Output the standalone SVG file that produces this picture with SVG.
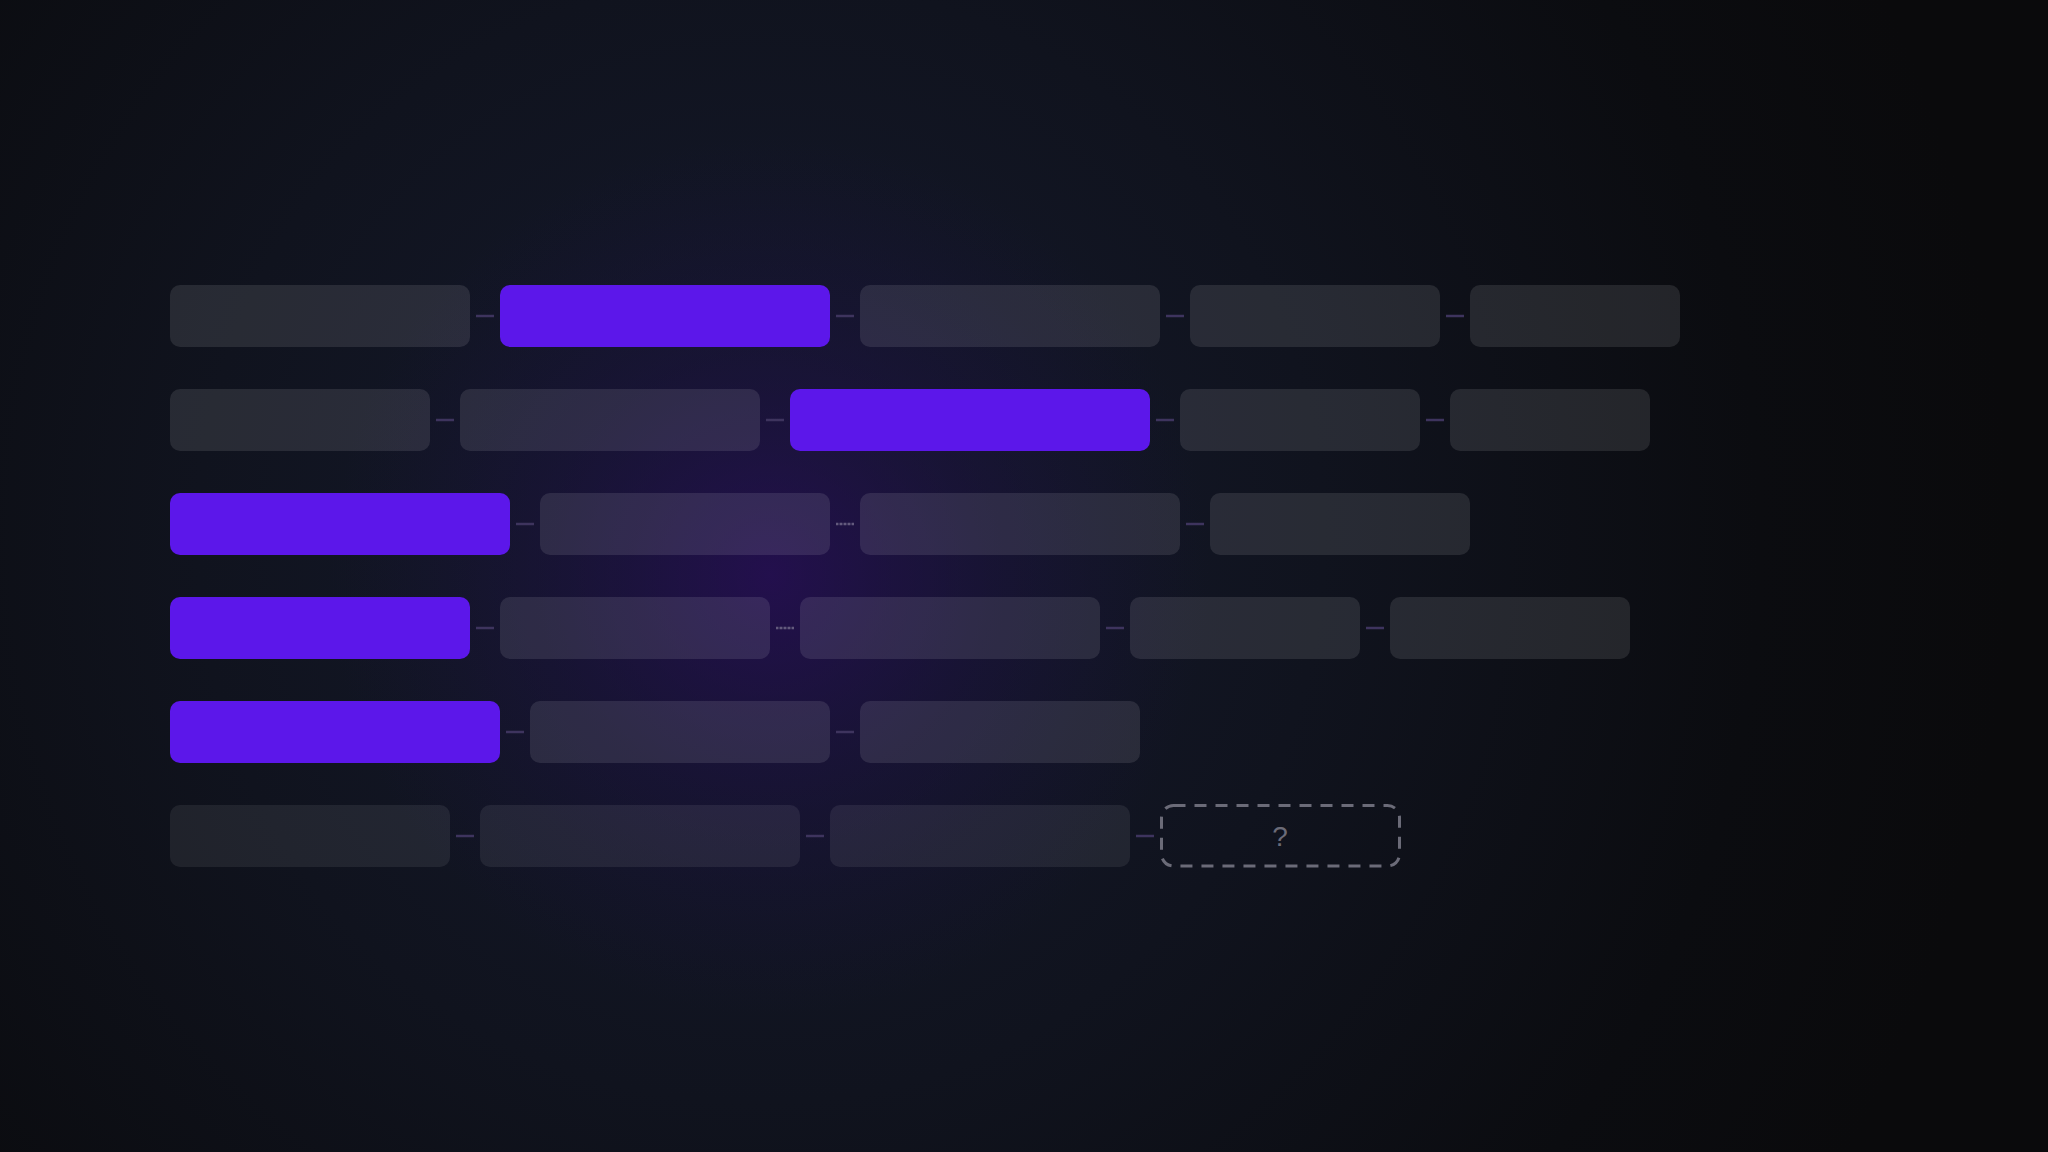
<svg xmlns="http://www.w3.org/2000/svg" width="2048" height="1152" viewBox="0 0 2048 1152">
  <defs>
    <radialGradient id="bgNavy" cx="760" cy="540" r="1250" gradientUnits="userSpaceOnUse">
      <stop offset="0" stop-color="#151a2e"/>
      <stop offset="0.45" stop-color="#10131e"/>
      <stop offset="0.8" stop-color="#0b0c10"/>
      <stop offset="1" stop-color="#0a0a0c"/>
    </radialGradient>
    <radialGradient id="bgGlow" cx="770" cy="575" r="440" gradientUnits="userSpaceOnUse">
      <stop offset="0" stop-color="#280c58" stop-opacity="0.75"/>
      <stop offset="0.5" stop-color="#200d4a" stop-opacity="0.35"/>
      <stop offset="1" stop-color="#1a1040" stop-opacity="0"/>
    </radialGradient>
    <style>
      .box { fill: #ffffff; fill-opacity: 0.1; }
      .faded { fill: #ffffff; fill-opacity: 0.075; }
      .active { fill: #5c17ea; }
      .conn { stroke: #3e345e; stroke-width: 2.5; fill: none; }
      .flow { stroke: #9a94ad; stroke-width: 2.5; stroke-dasharray: 2 2; stroke-opacity: 0.4; fill: none; }
      .todo { fill: none; stroke: #6b6b78; stroke-width: 3; stroke-dasharray: 12 9; }
      .q { font-family: "Liberation Sans", Arial, sans-serif; font-size: 28px; fill: #6b6b78; text-anchor: middle; }
    </style>
  </defs>

  <rect width="2048" height="1152" fill="#0a0a0c"/>
  <rect width="2048" height="1152" fill="url(#bgNavy)"/>
  <rect width="2048" height="1152" fill="url(#bgGlow)"/>

  <g id="connectors">
    <line class="conn" x1="476" y1="316" x2="494" y2="316"/>
    <line class="conn" x1="836" y1="316" x2="854" y2="316"/>
    <line class="conn" x1="1166" y1="316" x2="1184" y2="316"/>
    <line class="conn" x1="1446" y1="316" x2="1464" y2="316"/>

    <line class="conn" x1="436" y1="420" x2="454" y2="420"/>
    <line class="conn" x1="766" y1="420" x2="784" y2="420"/>
    <line class="conn" x1="1156" y1="420" x2="1174" y2="420"/>
    <line class="conn" x1="1426" y1="420" x2="1444" y2="420"/>

    <line class="conn" x1="516" y1="524" x2="534" y2="524"/>
    <line class="conn" x1="836" y1="524" x2="854" y2="524"/>
    <line class="flow" x1="836" y1="524" x2="854" y2="524"/>
    <line class="conn" x1="1186" y1="524" x2="1204" y2="524"/>

    <line class="conn" x1="476" y1="628" x2="494" y2="628"/>
    <line class="conn" x1="776" y1="628" x2="794" y2="628"/>
    <line class="flow" x1="776" y1="628" x2="794" y2="628"/>
    <line class="conn" x1="1106" y1="628" x2="1124" y2="628"/>
    <line class="conn" x1="1366" y1="628" x2="1384" y2="628"/>

    <line class="conn" x1="506" y1="732" x2="524" y2="732"/>
    <line class="conn" x1="836" y1="732" x2="854" y2="732"/>

    <line class="conn" x1="456" y1="836" x2="474" y2="836"/>
    <line class="conn" x1="806" y1="836" x2="824" y2="836"/>
    <line class="conn" x1="1136" y1="836" x2="1154" y2="836"/>
  </g>

  <g id="row1">
    <rect id="n1-1" class="box" x="170" y="285" width="300" height="62" rx="10"/>
    <rect id="n1-2" class="active" x="500" y="285" width="330" height="62" rx="10"/>
    <rect id="n1-3" class="box" x="860" y="285" width="300" height="62" rx="10"/>
    <rect id="n1-4" class="box" x="1190" y="285" width="250" height="62" rx="10"/>
    <rect id="n1-5" class="box" x="1470" y="285" width="210" height="62" rx="10"/>
  </g>
  <g id="row2">
    <rect id="n2-1" class="box" x="170" y="389" width="260" height="62" rx="10"/>
    <rect id="n2-2" class="box" x="460" y="389" width="300" height="62" rx="10"/>
    <rect id="n2-3" class="active" x="790" y="389" width="360" height="62" rx="10"/>
    <rect id="n2-4" class="box" x="1180" y="389" width="240" height="62" rx="10"/>
    <rect id="n2-5" class="box" x="1450" y="389" width="200" height="62" rx="10"/>
  </g>
  <g id="row3">
    <rect id="n3-1" class="active" x="170" y="493" width="340" height="62" rx="10"/>
    <rect id="n3-2" class="box" x="540" y="493" width="290" height="62" rx="10"/>
    <rect id="n3-3" class="box" x="860" y="493" width="320" height="62" rx="10"/>
    <rect id="n3-4" class="box" x="1210" y="493" width="260" height="62" rx="10"/>
  </g>
  <g id="row4">
    <rect id="n4-1" class="active" x="170" y="597" width="300" height="62" rx="10"/>
    <rect id="n4-2" class="box" x="500" y="597" width="270" height="62" rx="10"/>
    <rect id="n4-3" class="box" x="800" y="597" width="300" height="62" rx="10"/>
    <rect id="n4-4" class="box" x="1130" y="597" width="230" height="62" rx="10"/>
    <rect id="n4-5" class="box" x="1390" y="597" width="240" height="62" rx="10"/>
  </g>
  <g id="row5">
    <rect id="n5-1" class="active" x="170" y="701" width="330" height="62" rx="10"/>
    <rect id="n5-2" class="box" x="530" y="701" width="300" height="62" rx="10"/>
    <rect id="n5-3" class="box" x="860" y="701" width="280" height="62" rx="10"/>
  </g>
  <g id="row6">
    <rect id="n6-1" class="faded" x="170" y="805" width="280" height="62" rx="10"/>
    <rect id="n6-2" class="faded" x="480" y="805" width="320" height="62" rx="10"/>
    <rect id="n6-3" class="faded" x="830" y="805" width="300" height="62" rx="10"/>
    <g id="n6-4">
      <rect class="todo" x="1161.5" y="805.5" width="238" height="60.5" rx="12"/>
      <text class="q" x="1280" y="846">?</text>
    </g>
  </g>
</svg>
